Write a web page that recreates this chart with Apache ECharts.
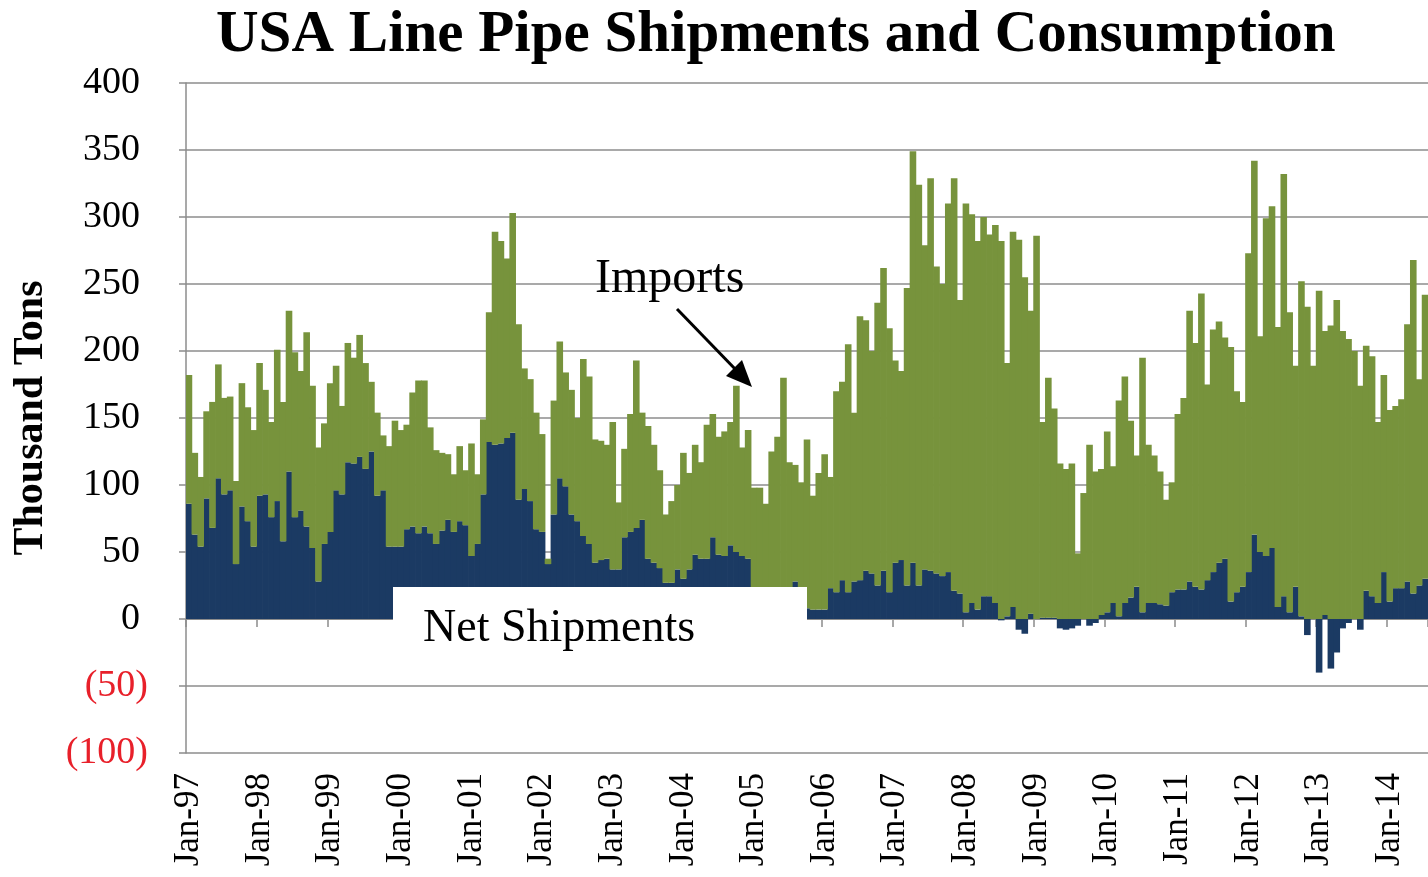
<!DOCTYPE html>
<html>
<head>
<meta charset="utf-8">
<script src="https://cdn.jsdelivr.net/npm/echarts@6/dist/echarts.min.js"></script>
<style>
  html, body { margin: 0; padding: 0; background: #ffffff; }
  #chart { width: 1428px; height: 877px; }
</style>
</head>
<body>
<div id="chart"></div>
<script>
// ---- data (thousand tons, monthly Jan-97 .. Jul-14) ----
const monthNames = ['Jan','Feb','Mar','Apr','May','Jun','Jul','Aug','Sep','Oct','Nov','Dec'];
const yearLabels = ['97','98','99','00','01','02','03','04','05','06','07','08','09','10','11','12','13','14'];
const monthCount = 211;

const netShipments = [
  86,63,54,90,68,105,93,96,41,84,73,54,          // 1997
  92,93,76,88,58,110,76,81,69,53,28,56,          // 1998
  65,96,93,117,116,121,112,125,92,96,54,54,      // 1999
  54,67,69,64,69,64,56,66,74,65,73,70,           // 2000
  47,56,93,132,130,131,135,139,89,97,88,67,      // 2001
  65,41,78,105,99,78,73,62,56,42,44,45,          // 2002
  37,37,61,65,68,74,45,42,38,27,27,37,           // 2003
  30,37,48,45,45,61,48,47,55,50,47,45,           // 2004
  18,15,12,10,12,15,18,28,12,8,7,7,              // 2005
  7,23,20,29,20,28,29,36,34,25,36,20,            // 2006
  42,44,25,42,25,37,36,34,32,35,21,19,           // 2007
  5,12,7,17,17,12,-1,2,9,-8,-11,4,               // 2008
  0,1,1,1,-7,-8,-7,-5,0,-5,-3,3,                 // 2009
  5,12,2,12,16,24,5,12,12,11,10,20,              // 2010
  22,22,28,24,22,29,35,42,45,13,20,24,           // 2011
  35,63,50,47,53,9,17,5,24,2,-12,0,              // 2012
  -40,3,-37,-25,-7,-3,0,-8,21,17,12,35,          // 2013
  13,23,23,28,19,25,30                           // 2014
];

const imports = [
  96,61,52,65,94,85,72,70,62,92,85,87,           // 1997
  99,78,71,113,104,120,123,104,145,121,100,90,   // 1998
  111,93,66,89,79,91,79,52,62,41,75,94,          // 1999
  87,78,100,114,109,79,70,58,49,43,56,41,        // 2000
  84,52,56,97,159,151,134,164,131,90,91,87,      // 2001
  73,4,85,102,85,93,77,132,125,92,89,85,         // 2002
  110,50,66,88,125,80,99,88,73,51,61,63,         // 2003
  94,72,82,72,100,92,88,93,92,124,81,96,         // 2004
  80,83,74,115,124,165,99,87,90,126,85,102,      // 2005
  116,83,150,148,185,126,197,187,166,211,226,197,// 2006
  151,141,222,307,299,242,293,229,218,275,308,219,// 2007
  305,290,275,283,270,282,282,189,280,283,255,226,// 2008
  286,146,179,156,116,112,116,49,94,130,110,109, // 2009
  135,102,161,169,132,98,190,118,110,99,79,82,   // 2010
  131,143,202,182,221,146,181,180,165,190,150,138,// 2011
  238,279,161,252,255,209,315,224,165,250,233,189,// 2012
  245,212,219,238,215,209,200,174,183,179,135,147,// 2013
  143,136,141,192,249,154,212                    // 2014
];

const yMin = -100, yMax = 400, yStep = 50;

// ---- categories ----
const categories = [];
for (const y of yearLabels) for (const m of monthNames) categories.push(m + '-' + y);
categories.length = monthCount;

const FONT = "'Liberation Serif', 'Times New Roman', serif";
const NAVY = '#1b3a63';
const GREEN = '#77933c';
const GRID = '#8c8c8c';

const chart = echarts.init(document.getElementById('chart'), null, { renderer: 'canvas' });

chart.setOption({
  animation: false,
  backgroundColor: '#ffffff',
  title: {
    text: 'USA Line Pipe Shipments and Consumption',
    left: 211, top: 1,
    textStyle: { fontFamily: FONT, fontSize: 59, fontWeight: 'bold', color: '#000' }
  },
  grid: { left: 186, right: 0, top: 83, bottom: 124, containLabel: false, outerBoundsMode: 'none' },
  xAxis: [
    {
      // labels at the bottom edge ("low" position)
      type: 'category',
      data: categories,
      position: 'bottom',
      boundaryGap: true,
      axisLine: { show: false, onZero: false },
      axisTick: { show: false },
      axisLabel: {
        interval: (i) => i % 12 === 0,
        rotate: 90, margin: 20, hideOverlap: false,
        fontFamily: FONT, fontSize: 35, color: '#000'
      },
      splitLine: { show: false }
    },
    {
      // axis line and year ticks crossing at zero
      type: 'category',
      data: categories,
      position: 'bottom',
      boundaryGap: true,
      axisLine: { show: true, onZero: true, lineStyle: { color: GRID, width: 1 } },
      axisTick: {
        show: true, length: 8,
        interval: (i) => i % 12 === 0,
        lineStyle: { color: GRID, width: 1.5 }
      },
      axisLabel: { show: false },
      splitLine: { show: false }
    }
  ],
  yAxis: {
    type: 'value',
    min: yMin, max: yMax, interval: yStep,
    axisLine: { show: true, lineStyle: { color: GRID, width: 1.5 } },
    axisTick: { show: true, length: 7, lineStyle: { color: GRID, width: 1.5 } },
    splitLine: { show: true, lineStyle: { color: GRID, width: 1.5 } },
    axisLabel: {
      margin: 38,
      formatter: (v) => v < 0 ? '{n|(' + Math.abs(v) + ')}' : '{p|' + v + '}',
      rich: {
        n: { fontFamily: FONT, fontSize: 38, color: '#e8202a' },
        p: { fontFamily: FONT, fontSize: 38, color: '#000', padding: [0, 8, 0, 0] }
      }
    }
  },
  series: [
    {
      name: 'Net Shipments', type: 'bar', stack: 'total',
      xAxisIndex: 0,
      data: netShipments,
      barWidth: 6.6, barGap: '-100%',
      itemStyle: { color: NAVY }
    },
    {
      name: 'Imports', type: 'bar', stack: 'total',
      xAxisIndex: 0,
      data: imports,
      barWidth: 6.6, barGap: '-100%',
      itemStyle: { color: GREEN }
    }
  ],
  graphic: [
    {
      type: 'text', z: 100,
      x: 31, y: 418, rotation: Math.PI / 2,
      style: { text: 'Thousand Tons', fontFamily: FONT, fontSize: 42, fontWeight: 'bold',
               fill: '#000', align: 'center', verticalAlign: 'middle' }
    },
    {
      type: 'rect', z: 100,
      shape: { x: 393, y: 587, width: 414, height: 97 },
      style: { fill: '#ffffff' }
    },
    {
      type: 'text', z: 101,
      x: 423, y: 629,
      style: { text: 'Net Shipments', fontFamily: FONT, fontSize: 46, fill: '#000',
               align: 'left', verticalAlign: 'middle' }
    },
    {
      type: 'text', z: 101,
      x: 595, y: 279,
      style: { text: 'Imports', fontFamily: FONT, fontSize: 48, fill: '#000',
               align: 'left', verticalAlign: 'middle' }
    },
    {
      type: 'line', z: 101,
      shape: { x1: 677, y1: 309, x2: 738, y2: 372 },
      style: { stroke: '#000', lineWidth: 3 }
    },
    {
      type: 'polygon', z: 101,
      shape: { points: [[752, 387], [726, 376], [742, 360]] },
      style: { fill: '#000' }
    }
  ]
});
</script>
</body>
</html>
